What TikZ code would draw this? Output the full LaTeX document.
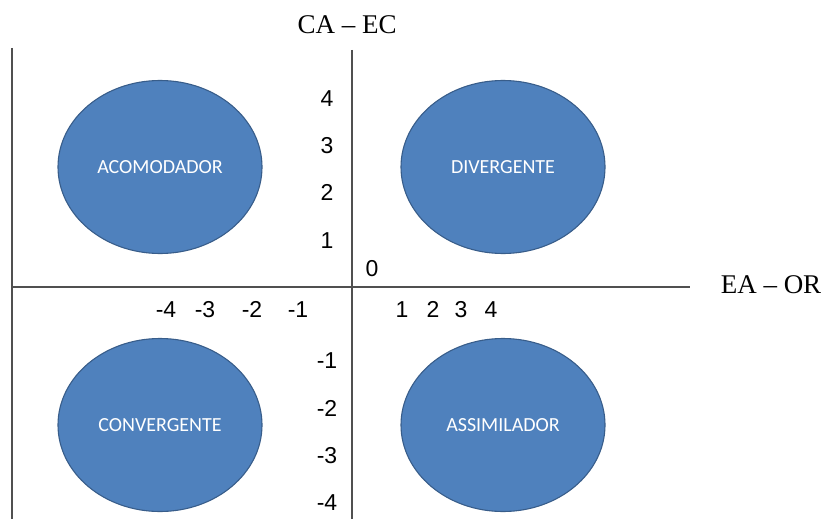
\documentclass[tikz,border=0pt]{standalone}
\usepackage{fontspec}
\setmainfont{Liberation Serif}
\setsansfont{Liberation Sans}
\newfontfamily\calibri{Carlito}
\usepackage{tikz}
\usetikzlibrary{shapes.geometric}
\definecolor{blobfill}{HTML}{4F81BD}
\definecolor{blobline}{HTML}{385D8A}
\definecolor{axisgray}{HTML}{505050}

\begin{document}
\begin{tikzpicture}[x=1pt,y=-1pt,
    blob/.style={ellipse, draw=blobline, fill=blobfill, line width=1.1pt,
        minimum width=204pt, minimum height=173pt, inner sep=0pt,
        text=white, font=\calibri\fontsize{20}{20}\selectfont},
    num/.style={inner sep=0pt, text height=16.5pt, text depth=0pt,
        font=\sffamily\fontsize{23}{23}\selectfont},
    axtitle/.style={inner sep=0pt, font=\rmfamily\fontsize{27}{27}\selectfont},
    axisline/.style={draw=axisgray, line width=1.8pt}]
    \useasboundingbox (0,0) rectangle (826,519);

    \coordinate (ltop) at (12,48);
    \coordinate (lbot) at (12,519);
    \coordinate (ytop) at (352,50);
    \coordinate (ybot) at (352,519);
    \coordinate (xleft) at (12,287);
    \coordinate (xright) at (690,287);

    \draw[axisline] (ltop) -- (lbot);
    \draw[axisline] (ytop) -- (ybot);
    \draw[axisline] (xleft) -- (xright);

    \node[axtitle] (catitle) at (347,25) {CA -- EC};
    \node[axtitle] (eatitle) at (771,285) {EA -- OR};

    \node[blob] (acomodador) at (160,167) {ACOMODADOR};
    \node[blob] (divergente) at (503,167) {DIVERGENTE};
    \node[blob] (convergente) at (160,425) {CONVERGENTE};
    \node[blob] (assimilador) at (503,425) {ASSIMILADOR};

    \node[num] (zero) at (372,268) {0};

    \node[num] (ypos4) at (327,98) {4};
    \node[num] (ypos3) at (327,145) {3};
    \node[num] (ypos2) at (327,192) {2};
    \node[num] (ypos1) at (327,240) {1};
    \node[num] (yneg1) at (327,360) {-1};
    \node[num] (yneg2) at (327,408) {-2};
    \node[num] (yneg3) at (327,455) {-3};
    \node[num] (yneg4) at (327,502) {-4};

    \node[num] (xneg4) at (166,309) {-4};
    \node[num] (xneg3) at (205,309) {-3};
    \node[num] (xneg2) at (252,309) {-2};
    \node[num] (xneg1) at (298,309) {-1};
    \node[num] (xpos1) at (402,309) {1};
    \node[num] (xpos2) at (433,309) {2};
    \node[num] (xpos3) at (461,309) {3};
    \node[num] (xpos4) at (491,309) {4};
\end{tikzpicture}
\end{document}
